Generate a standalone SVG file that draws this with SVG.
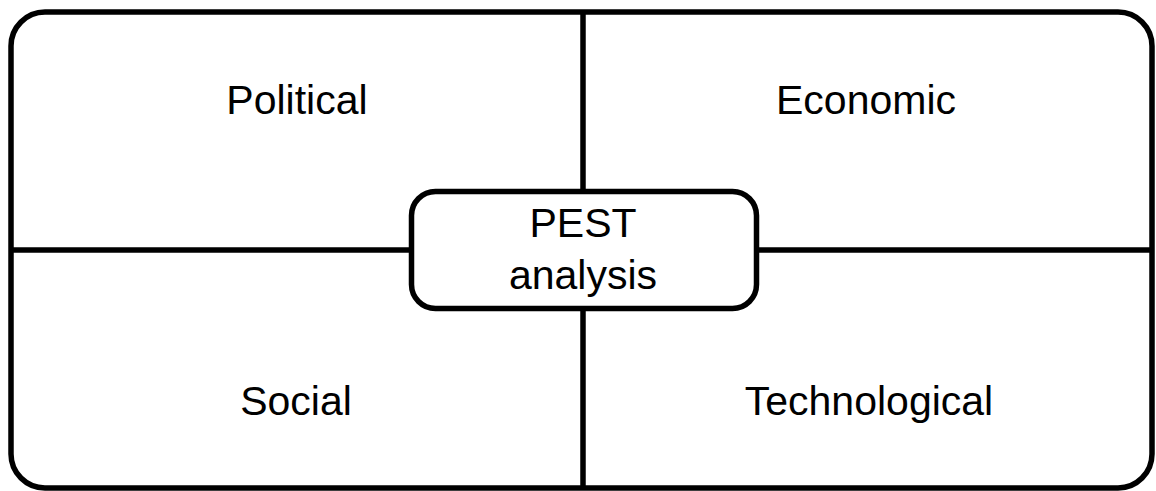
<svg xmlns="http://www.w3.org/2000/svg" width="1156" height="491" viewBox="0 0 1156 491">
<style>
.frame{fill:none;stroke:#000;stroke-width:5.5}
.line{stroke:#000;stroke-width:5.5;fill:none}
.lbl{font-family:"Liberation Sans",Arial,sans-serif;font-size:41px;fill:#000;text-anchor:middle}
</style>
<rect width="1156" height="491" fill="#fff"/>
<g id="connectors">
<line class="line" x1="583" y1="12" x2="583" y2="488"/>
<line class="line" x1="11" y1="250" x2="1152" y2="250"/>
</g>
<g id="frame">
<rect class="frame" x="11" y="12" width="1141" height="476" rx="34" ry="34"/>
</g>
<g id="political"><text class="lbl" x="297" y="114">Political</text></g>
<g id="economic"><text class="lbl" x="866" y="114">Economic</text></g>
<g id="social"><text class="lbl" x="296" y="415">Social</text></g>
<g id="technological"><text class="lbl" x="869" y="415">Technological</text></g>
<g id="pest">
<rect x="411.5" y="191.5" width="345" height="117" rx="24" ry="24" fill="#fff" stroke="#000" stroke-width="5.5"/>
<text class="lbl" x="583" y="237">PEST</text>
<text class="lbl" x="583" y="289">analysis</text>
</g>
</svg>
